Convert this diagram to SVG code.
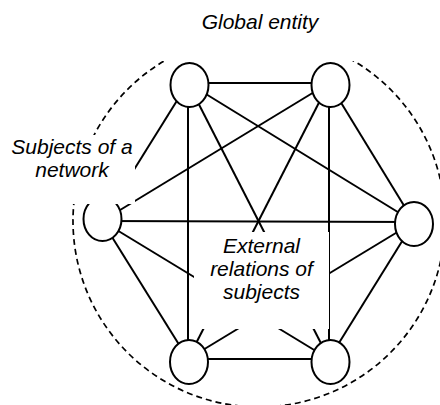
<svg xmlns="http://www.w3.org/2000/svg" width="440" height="405" viewBox="0 0 440 405">
<style>
.edge{stroke:#000;stroke-width:2;fill:none}
.node{fill:#fff;stroke:#000;stroke-width:2}
.boundary{fill:none;stroke:#000;stroke-width:1.7;stroke-dasharray:6 4}
.mask{fill:#fff;stroke:none}
.lbl{font-family:"Liberation Sans",Arial,sans-serif;font-style:italic;font-size:21px;fill:#000;text-anchor:middle}
</style>
<rect width="440" height="405" fill="#fff"/>
<circle id="global-entity" class="boundary" cx="259" cy="221" r="186"/>
<g id="connectors">
<line class="edge" x1="188" y1="83" x2="329" y2="83"/>
<line class="edge" x1="188" y1="83" x2="102" y2="221"/>
<line class="edge" x1="188" y1="83" x2="414" y2="222"/>
<line class="edge" x1="188" y1="83" x2="188" y2="359"/>
<line class="edge" x1="188" y1="83" x2="329" y2="359"/>
<line class="edge" x1="329" y1="83" x2="102" y2="221"/>
<line class="edge" x1="329" y1="83" x2="414" y2="222"/>
<line class="edge" x1="329" y1="83" x2="188" y2="359"/>
<line class="edge" x1="329" y1="83" x2="329" y2="359"/>
<line class="edge" x1="102" y1="221" x2="414" y2="222"/>
<line class="edge" x1="102" y1="221" x2="188" y2="359"/>
<line class="edge" x1="102" y1="221" x2="329" y2="359"/>
<line class="edge" x1="414" y1="222" x2="188" y2="359"/>
<line class="edge" x1="414" y1="222" x2="329" y2="359"/>
<line class="edge" x1="188" y1="359" x2="329" y2="359"/>
</g>
<g id="node-top-left"><ellipse class="node" cx="189.5" cy="85" rx="19" ry="22"/></g>
<g id="node-top-right"><ellipse class="node" cx="330.5" cy="85" rx="19" ry="22"/></g>
<g id="node-left"><ellipse class="node" cx="102.5" cy="219" rx="19" ry="22"/></g>
<g id="node-right"><ellipse class="node" cx="414" cy="224" rx="19" ry="22"/></g>
<g id="node-bottom-left"><ellipse class="node" cx="189" cy="362" rx="19" ry="22"/></g>
<g id="node-bottom-right"><ellipse class="node" cx="330.5" cy="362" rx="19" ry="22"/></g>
<g id="label-global">
<rect class="mask" x="140" y="0" width="240" height="61"/>
<text class="lbl" x="260" y="29">Global entity</text>
</g>
<g id="label-subjects">
<rect class="mask" x="6" y="135" width="129" height="69"/>
<text class="lbl" x="72" y="154">Subjects of a</text>
<text class="lbl" x="72" y="177">network</text>
</g>
<g id="label-external">
<rect class="mask" x="194" y="232" width="135" height="97"/>
<text class="lbl" x="261.5" y="253">External</text>
<text class="lbl" x="261.5" y="276">relations of</text>
<text class="lbl" x="261.5" y="299">subjects</text>
</g>
</svg>
